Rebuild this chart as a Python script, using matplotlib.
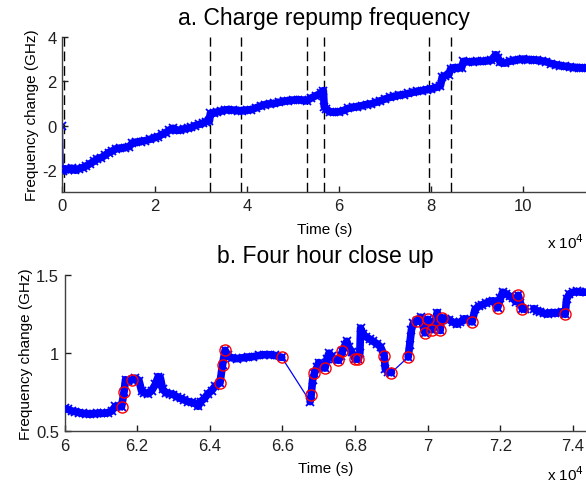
import numpy as np
import matplotlib
matplotlib.use("Agg")
import matplotlib.pyplot as plt

plt.rcParams['font.family'] = ['Liberation Sans', 'DejaVu Sans']
plt.rcParams['axes.unicode_minus'] = False

# ---------------- Data (time in units of 1e4 s, frequency in GHz) ----------------
time_a = [0.00, 0.02, 0.06, 0.12, 0.20, 0.28, 0.36, 0.44, 0.52, 0.60, 0.68, 0.76, 0.84,
          0.92, 1.00, 1.08, 1.16, 1.25, 1.35, 1.45, 1.52, 1.60, 1.70, 1.80, 1.90, 2.00,
          2.08, 2.16, 2.24, 2.32, 2.40, 2.48, 2.56, 2.64, 2.72, 2.80, 2.88, 2.96, 3.04,
          3.12, 3.19, 3.21, 3.28, 3.36, 3.44, 3.52, 3.60, 3.70, 3.80, 3.90, 4.00, 4.10,
          4.20, 4.30, 4.40, 4.50, 4.60, 4.70, 4.80, 4.90, 5.00, 5.10, 5.20, 5.30, 5.40,
          5.50, 5.60, 5.66, 5.68, 5.72, 5.80, 5.90, 6.00, 6.10, 6.20, 6.30, 6.40, 6.50,
          6.60, 6.70, 6.80, 6.90, 7.00, 7.10, 7.20, 7.30, 7.40, 7.50, 7.60, 7.70, 7.80,
          7.90, 8.00, 8.10, 8.20, 8.24, 8.30, 8.38, 8.42, 8.50, 8.60, 8.66, 8.70, 8.80,
          8.90, 9.00, 9.10, 9.20, 9.30, 9.40, 9.45, 9.50, 9.60, 9.70, 9.80, 9.90, 10.00,
          10.10, 10.20, 10.30, 10.40, 10.50, 10.60, 10.70, 10.80, 10.90, 11.00, 11.10,
          11.20, 11.30, 11.40]
freq_a = [0.00, -2.05, -1.95, -2.00, -1.92, -2.02, -1.95, -1.90, -1.82, -1.72, -1.62, -1.50,
          -1.45, -1.35, -1.22, -1.15, -1.05, -1.02, -1.00, -0.95, -0.78, -0.75, -0.72, -0.68,
          -0.62, -0.55, -0.50, -0.40, -0.33, -0.20, -0.12, -0.22, -0.20, -0.15, -0.12, -0.08,
          0.00, 0.05, 0.10, 0.18, 0.22, 0.55, 0.55, 0.62, 0.65, 0.70, 0.72, 0.70, 0.68,
          0.67, 0.70, 0.72, 0.80, 0.88, 0.95, 0.98, 1.00, 1.05, 1.10, 1.12, 1.15, 1.17,
          1.15, 1.12, 1.25, 1.35, 1.45, 1.58, 0.85, 0.75, 0.62, 0.60, 0.62, 0.68, 0.78,
          0.82, 0.85, 0.90, 0.95, 0.98, 1.05, 1.12, 1.20, 1.27, 1.32, 1.37, 1.40, 1.45,
          1.50, 1.55, 1.58, 1.62, 1.65, 1.72, 1.80, 2.20, 2.25, 2.30, 2.55, 2.62, 2.60,
          2.62, 2.90, 2.88, 2.88, 2.90, 2.90, 2.92, 2.95, 3.20, 3.05, 2.85, 2.82, 2.90,
          2.95, 2.98, 3.00, 2.98, 2.97, 2.95, 2.92, 2.88, 2.80, 2.75, 2.70, 2.68, 2.65,
          2.62, 2.62, 2.60, 2.60]
repump_times = [0.04, 3.20, 3.87, 5.30, 5.68, 7.96, 8.44]

time_b = [6.000, 6.010, 6.020, 6.030, 6.040, 6.050, 6.060, 6.070, 6.080, 6.090, 6.100,
          6.110, 6.120, 6.130, 6.140, 6.150, 6.157, 6.164, 6.168, 6.175, 6.187, 6.195,
          6.205, 6.212, 6.220, 6.230, 6.240, 6.250, 6.258, 6.264, 6.270, 6.280, 6.290,
          6.300, 6.310, 6.320, 6.330, 6.340, 6.350, 6.360, 6.368, 6.375, 6.385, 6.395,
          6.405, 6.415, 6.428, 6.435, 6.442, 6.450, 6.460, 6.475, 6.490, 6.505, 6.520,
          6.535, 6.550, 6.565, 6.580, 6.598, 6.676, 6.679, 6.683, 6.688, 6.695, 6.700,
          6.708, 6.717, 6.722, 6.728, 6.735, 6.745, 6.754, 6.760, 6.765, 6.772, 6.777,
          6.782, 6.790, 6.800, 6.809, 6.813, 6.815, 6.822, 6.830, 6.840, 6.850, 6.860,
          6.870, 6.880, 6.883, 6.890, 6.900, 6.946, 6.950, 6.955, 6.960, 6.970, 6.980,
          6.992, 7.000, 7.012, 7.020, 7.026, 7.034, 7.038, 7.048, 7.058, 7.068, 7.080,
          7.090, 7.100, 7.110, 7.122, 7.130, 7.140, 7.150, 7.160, 7.170, 7.180, 7.192,
          7.200, 7.206, 7.215, 7.225, 7.235, 7.242, 7.249, 7.255, 7.260, 7.268, 7.292,
          7.300, 7.310, 7.320, 7.330, 7.340, 7.350, 7.360, 7.370, 7.378, 7.382, 7.390,
          7.400, 7.410, 7.420, 7.435]
freq_b = [0.646, 0.640, 0.630, 0.625, 0.620, 0.615, 0.612, 0.610, 0.612, 0.615, 0.614,
          0.616, 0.618, 0.630, 0.660, 0.660, 0.657, 0.754, 0.830, 0.820, 0.830, 0.840,
          0.825, 0.760, 0.745, 0.740, 0.760, 0.800, 0.850, 0.840, 0.770, 0.745, 0.740,
          0.735, 0.720, 0.710, 0.700, 0.690, 0.685, 0.680, 0.660, 0.690, 0.710, 0.740,
          0.760, 0.790, 0.810, 0.926, 1.018, 0.985, 0.970, 0.965, 0.970, 0.975, 0.978,
          0.985, 0.990, 0.990, 0.985, 0.973, 0.690, 0.732, 0.830, 0.872, 0.910, 0.940,
          0.920, 0.904, 0.960, 1.000, 0.980, 0.960, 0.954, 0.980, 1.012, 1.050, 1.076,
          1.040, 1.010, 0.962, 0.962, 1.000, 1.160, 1.120, 1.105, 1.090, 1.075, 1.060,
          1.040, 0.984, 0.900, 0.880, 0.876, 0.975, 1.050, 1.150, 1.190, 1.205, 1.230,
          1.130, 1.216, 1.150, 1.200, 1.260, 1.145, 1.227, 1.220, 1.215, 1.200, 1.185,
          1.200, 1.220, 1.215, 1.200, 1.280, 1.300, 1.310, 1.320, 1.330, 1.335, 1.290,
          1.350, 1.390, 1.380, 1.365, 1.350, 1.330, 1.370, 1.320, 1.285, 1.280, 1.285,
          1.270, 1.265, 1.255, 1.250, 1.260, 1.255, 1.260, 1.265, 1.248, 1.345, 1.380,
          1.390, 1.395, 1.390, 1.390]

repump_time_b = [6.157, 6.164, 6.187, 6.428, 6.435, 6.442, 6.598, 6.679, 6.688, 6.717,
                 6.754, 6.765, 6.800, 6.809, 6.880, 6.900, 6.946, 6.970, 6.992, 7.000,
                 7.012, 7.034, 7.038, 7.122, 7.192, 7.249, 7.260, 7.378]
repump_freq_b = [0.657, 0.754, 0.830, 0.810, 0.926, 1.018, 0.973, 0.732, 0.872, 0.904,
                 0.954, 1.012, 0.962, 0.962, 0.984, 0.876, 0.975, 1.205, 1.130, 1.216,
                 1.150, 1.145, 1.227, 1.200, 1.290, 1.370, 1.285, 1.248]

xticks_a = [0, 2, 4, 6, 8, 10]
yticks_a = [-2, 0, 2, 4]
xticks_b = [6.0, 6.2, 6.4, 6.6, 6.8, 7.0, 7.2, 7.4]
xticklabels_b = ['6', '6.2', '6.4', '6.6', '6.8', '7', '7.2', '7.4']
yticks_b = [0.5, 1.0, 1.5]
yticklabels_b = ['0.5', '1', '1.5']

# ---------------- Figure ----------------
W, H = 586, 485
fig = plt.figure(figsize=(W / 100, H / 100), dpi=100)

blue = (0, 0, 1)
FS = 11
TFS = 12


def style(ax):
    for s in ['top', 'right']:
        ax.spines[s].set_visible(False)
    for s in ['left', 'bottom']:
        ax.spines[s].set_color('#404040')
        ax.spines[s].set_linewidth(1.0)
    ax.tick_params(direction='in', length=4, width=1, labelsize=TFS, colors='#202020',
                   top=False, right=False)
    ax.tick_params(axis='x', pad=4.5)
    ax.tick_params(axis='y', pad=4)


def band(ax, t, f, gap):
    t = np.asarray(t, float)
    f = np.asarray(f, float)
    ax.plot(t, f, '-', color=blue, lw=0.9, zorder=2)
    breaks = np.where(np.diff(t) > gap)[0] + 1
    for seg_t, seg_f in zip(np.split(t, breaks), np.split(f, breaks)):
        ax.plot(seg_t, seg_f, '-', color=blue, lw=5.5, solid_joinstyle='round',
                solid_capstyle='round', zorder=2)
    ax.plot(t, f, 'x', color=blue, ms=6, mew=1.3, zorder=3)


# Panel a
ax1 = fig.add_axes([62.4 / W, 1 - 193 / H, 1 - 62.4 / W, 155 / H])
style(ax1)
ta = np.asarray(time_a)
fa = np.asarray(freq_a)
ax1.plot(ta[:2], fa[:2], '-', color=blue, lw=0.9)
band(ax1, ta[1:], fa[1:], 0.5)
ax1.plot(ta[:1], fa[:1], 'x', color=blue, ms=6, mew=1.3)
for rt in repump_times:
    ax1.axvline(rt, color='black', lw=1.0, dashes=(7, 3.5), zorder=1)
ax1.set_xlim(0, (W - 62.4) / 46.1)
ax1.set_ylim(-3, 4)
ax1.set_xticks(xticks_a)
ax1.set_yticks(yticks_a)
ax1.set_xlabel('Time (s)', fontsize=FS, labelpad=6)
ax1.set_ylabel('Frequency change (GHz)', fontsize=FS, labelpad=2)
ax1.set_title('a. Charge repump frequency', fontsize=16.5, pad=9)

# Panel b
ax2 = fig.add_axes([64.5 / W, 1 - 432.3 / H, 1 - 64.5 / W, 156.3 / H])
style(ax2)
band(ax2, time_b, freq_b, 0.02)
ax2.plot(repump_time_b, repump_freq_b, 'o', ms=8, mfc='none', mec='red', mew=1.0, zorder=4)
ax2.set_xlim(6.0, 6.0 + (W - 64.5) / 363.3)
ax2.set_ylim(0.5, 1.5)
ax2.set_xticks(xticks_b)
ax2.set_xticklabels(xticklabels_b)
ax2.set_yticks(yticks_b)
ax2.set_yticklabels(yticklabels_b)
ax2.set_xlabel('Time (s)', fontsize=FS, labelpad=6)
ax2.set_ylabel('Frequency change (GHz)', fontsize=FS, labelpad=2)
ax2.set_title('b. Four hour close up', fontsize=16.5, pad=9)

fig.text(584 / W, 1 - 249 / H, r'x 10$^{4}$', fontsize=FS, ha='right', va='baseline')
fig.text(584 / W, 1 - 481 / H, r'x 10$^{4}$', fontsize=FS, ha='right', va='baseline')

fig.savefig('out.png', dpi=100)
